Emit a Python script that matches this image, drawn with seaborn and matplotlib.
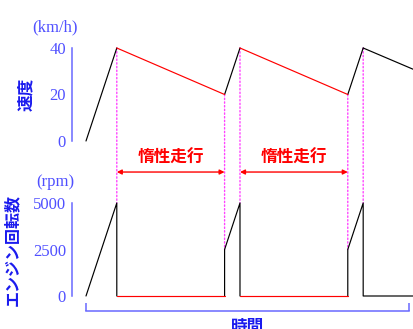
import pandas as pd
import numpy as np
import matplotlib.pyplot as plt
import seaborn as sns
from matplotlib.patches import ConnectionPatch

# 速度 (km/h) - 区間ごとに点を並べる
speed_t = [0, 10, 10, 45, 45, 50, 50, 85, 85, 90, 90, 106.5]
speed_v = [0, 40, 40, 20, 20, 40, 40, 20, 20, 40, 40, 30.7]
speed_seg = [1, 1, 2, 2, 3, 3, 4, 4, 5, 5, 6, 6]
speed_mode = ['加速', '加速', '惰性', '惰性', '加速', '加速', '惰性', '惰性', '加速', '加速', '減速', '減速']

# エンジン回転数 (rpm)
rpm_t = [0, 10, 10, 10, 45, 45, 45, 50, 50, 50, 85, 85, 85, 90, 90, 106.5]
rpm_v = [0, 5000, 0, 0, 0, 0, 2500, 5000, 0, 0, 0, 0, 2500, 5000, 0, 0]
rpm_seg = [1, 1, 1, 2, 2, 3, 3, 3, 3, 4, 4, 5, 5, 5, 5, 5]
rpm_mode = ['加速', '加速', '加速', '惰性', '惰性', '加速', '加速', '加速', '加速',
            '惰性', '惰性', '加速', '加速', '加速', '加速', '加速']

# 点線で結ぶ位置
link_t = [10, 45, 50, 85, 90]
link_speed = [40, 20, 40, 20, 40]
link_rpm = [5000, 2500, 5000, 2500, 5000]

# 惰性走行の区間
coast_start = [10, 50]
coast_end = [45, 85]

speed_df = pd.DataFrame({'t': speed_t, 'v': speed_v, 'seg': speed_seg, 'mode': speed_mode})
rpm_df = pd.DataFrame({'t': rpm_t, 'v': rpm_v, 'seg': rpm_seg, 'mode': rpm_mode})
palette = {'加速': 'black', '惰性': 'red', '減速': 'black'}

sns.set_style('white')
plt.rcParams['font.family'] = ['Noto Sans CJK JP', 'DejaVu Sans']

BLUE = '#1a1aee'
TICKBLUE = '#5050ff'
AXBLUE = '#6868ff'
W, H = 414, 329
PX = 0.72  # 1px in points at dpi 100
fig = plt.figure(figsize=(W / 100, H / 100), dpi=100)
ax1 = fig.add_axes([86 / W, 1 - 141 / H, (W - 86) / W, 93 / H])
ax2 = fig.add_axes([86 / W, 1 - 296 / H, (W - 86) / W, 93 / H])

for ax, df, ymax, ticks in [(ax1, speed_df, 40, [0, 20, 40]), (ax2, rpm_df, 5000, [0, 2500, 5000])]:
    sns.lineplot(data=df, x='t', y='v', units='seg', hue='mode', estimator=None, sort=False,
                 palette=palette, legend=False, lw=0.85, ax=ax)
    for ln in ax.lines:
        ln.set_clip_on(False)
    ax.set_xlim(0, 106.5)
    ax.set_ylim(0, ymax)
    ax.set_xlabel('')
    ax.set_ylabel('')
    for s in ['top', 'right', 'bottom']:
        ax.spines[s].set_visible(False)
    ax.spines['left'].set_position(('outward', 14 * PX))
    ax.spines['left'].set_bounds(0, ymax)
    ax.spines['left'].set_color(AXBLUE)
    ax.spines['left'].set_linewidth(1.1)
    ax.set_yticks(ticks)
    ax.set_xticks([])
    ax.tick_params(axis='y', direction='in', length=7 * PX, width=1.0, color=AXBLUE,
                   labelcolor=TICKBLUE, labelsize=12, pad=6 * PX)
    for lab in ax.get_yticklabels():
        lab.set_family('Liberation Serif')
    ax.patch.set_visible(False)

ax2.yaxis.get_major_ticks()[1].tick1line.set_color('#444444')

# 時間軸のブラケット
ax2.spines['bottom'].set_visible(True)
ax2.spines['bottom'].set_position(('outward', 15 * PX))
ax2.spines['bottom'].set_bounds(0, 105)
ax2.spines['bottom'].set_color(AXBLUE)
ax2.spines['bottom'].set_linewidth(1.1)
ax2.set_xticks([0, 105])
ax2.set_xticklabels(['', ''])
ax2.tick_params(axis='x', direction='in', length=8 * PX, width=1.1, color=AXBLUE, bottom=True)

# 点線
for t, s, r in zip(link_t, link_speed, link_rpm):
    con = ConnectionPatch(xyA=(t, s), coordsA=ax1.transData, xyB=(t, r), coordsB=ax2.transData,
                          color='#ff44ff', ls=':', lw=1.0, zorder=0)
    fig.add_artist(con)

# 惰性走行の矢印
for a, b in zip(coast_start, coast_end):
    ax2.annotate('', xy=(a, 1.333), xytext=(b, 1.333), xycoords=('data', 'axes fraction'),
                 arrowprops=dict(arrowstyle='<|-|>', color='red', lw=1.0, mutation_scale=7,
                                 shrinkA=0, shrinkB=0), annotation_clip=False)
    ax2.text((a + b) / 2, 1.484, '惰性走行', transform=ax2.get_xaxis_transform(), ha='center',
             va='center', color='red', fontsize=12, fontweight='bold')

# 軸ラベル
fig.text(55 / W, 1 - 27 / H, '(km/h)', ha='center', va='center', color=TICKBLUE,
         fontsize=12, family='Liberation Serif')
fig.text(55 / W, 1 - 182 / H, '(rpm)', ha='center', va='center', color=TICKBLUE,
         fontsize=12, family='Liberation Serif')
fig.text(26 / W, 1 - 94 / H, '速度', rotation=90, ha='center', va='center', color=BLUE,
         fontsize=12, fontweight='bold')
fig.text(12 / W, 1 - 250 / H, 'エンジン回転数', rotation=90, ha='center', va='center', color=BLUE,
         fontsize=11.5, fontweight='bold')
fig.text(248 / W, 1 - 318 / H, '時間', ha='center', va='top', color=BLUE,
         fontsize=12, fontweight='bold')

plt.savefig('out.png', dpi=100)
